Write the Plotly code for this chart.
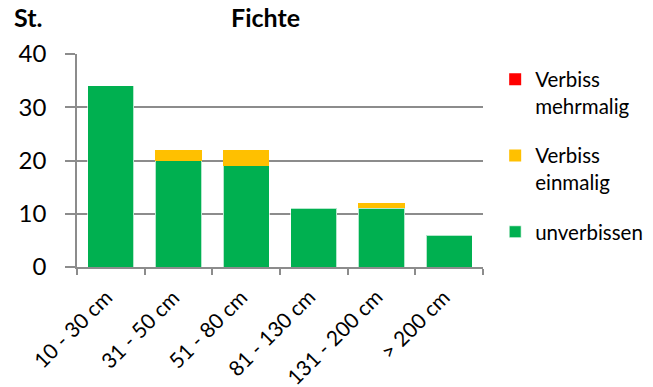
import plotly.graph_objects as go

# Height classes and counts per browsing status
categories = ["10 - 30 cm", "31 - 50 cm", "51 - 80 cm", "81 - 130 cm", "131 - 200 cm", "> 200 cm"]
unverbissen = [34, 20, 19, 11, 11, 6]
verbiss_einmalig = [0, 2, 3, 0, 1, 0]
verbiss_mehrmalig = [0, 0, 0, 0, 0, 0]
y_ticks = [0, 10, 20, 30, 40]

FONT = "Lato"
GRID = "#8c8c8c"

fig = go.Figure()
fig.add_trace(go.Bar(
    x=categories, y=unverbissen, name="unverbissen",
    marker=dict(color="#00B050", line=dict(color="rgba(255,255,255,0.7)", width=1)),
    legendgroup="a", legendrank=3,
))
fig.add_trace(go.Bar(
    x=categories, y=verbiss_einmalig, name="Verbiss<br>einmalig",
    marker=dict(color="#FFC000", line=dict(color="rgba(255,255,255,0.7)", width=0)),
    legendgroup="b", legendrank=2,
))
fig.add_trace(go.Bar(
    x=categories, y=verbiss_mehrmalig, name="Verbiss<br>mehrmalig",
    marker=dict(color="#FF0000", line=dict(width=0)),
    legendgroup="c", legendrank=1,
))

plot_w = 653 - 77 - 170
plot_h = 387 - 54 - 120

def px_to_paper(x, y):
    return (x - 77) / plot_w, (387 - 120 - y) / plot_h

annotations = []
for txt, (px, py), anchor in [("<b>Fichte</b>", (265, 17), "center"),
                              ("<b>St.</b>", (12, 17), "left")]:
    ax, ay = px_to_paper(px, py)
    annotations.append(dict(text=txt, x=ax, y=ay, xref="paper", yref="paper",
                            xanchor=anchor, yanchor="middle", showarrow=False,
                            font=dict(family=FONT, size=25, color="black")))

# slanted category labels under each bar (category index on the x axis)
for i, cat in enumerate(categories):
    annotations.append(dict(text=cat, x=i, y=0, xref="x", yref="y",
                            xanchor="right", yanchor="top", textangle=-45,
                            xshift=8, yshift=-14, showarrow=False,
                            font=dict(family=FONT, size=21, color="black")))

fig.update_layout(
    width=653, height=387,
    barmode="stack",
    bargap=0.32,
    paper_bgcolor="white",
    plot_bgcolor="white",
    margin=dict(l=77, r=170, t=54, b=120, autoexpand=False),
    font=dict(family=FONT, color="black"),
    showlegend=True,
    legend=dict(
        x=1.03, xanchor="left", y=0.975, yanchor="top",
        traceorder="grouped", valign="top",
        font=dict(family=FONT, size=20.5, color="black"),
        tracegroupgap=20,
        bgcolor="rgba(0,0,0,0)",
    ),
    annotations=annotations,
)

fig.update_xaxes(
    type="category",
    categoryorder="array", categoryarray=categories,
    range=[-0.5, len(categories) - 0.5],
    showline=True, linecolor=GRID, linewidth=1.5,
    ticks="outside", tickson="boundaries", ticklen=6, tickcolor=GRID, tickwidth=1.5,
    showticklabels=False,
    showgrid=False,
)
fig.update_yaxes(
    range=[0, 40], tickvals=y_ticks,
    showline=True, linecolor=GRID, linewidth=1.5,
    ticks="outside", ticklen=10, tickcolor=GRID, tickwidth=1.5,
    showgrid=True, gridcolor=GRID, gridwidth=1.5,
    tickfont=dict(family=FONT, size=24, color="black"),
    ticklabelstandoff=14,
    zeroline=False,
)

fig.write_html("out.html")
